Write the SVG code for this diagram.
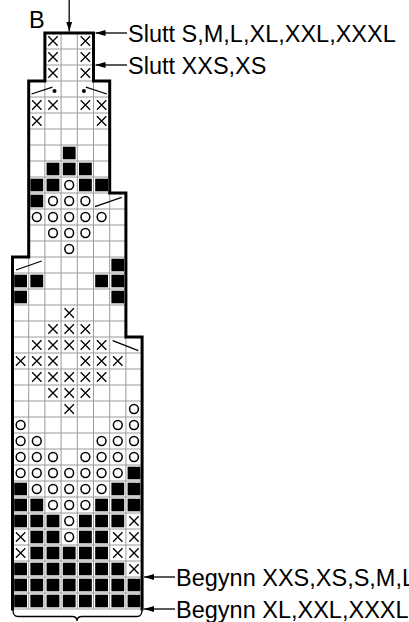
<svg xmlns="http://www.w3.org/2000/svg" xmlns:xlink="http://www.w3.org/1999/xlink" width="409" height="622" viewBox="0 0 409 622">
<style>
.grid{stroke:#9a9a9a;stroke-width:1;fill:none}
.border{stroke:#000;stroke-width:3;fill:none;stroke-linejoin:miter;stroke-linecap:square}
.sym{stroke:#000;stroke-width:1.3;fill:none}
.circ{stroke:#000;stroke-width:1.5;fill:none}
.conn{stroke:#000;stroke-width:1.3;fill:none}
.lbl{font-family:"Liberation Sans",Arial,Helvetica,sans-serif;font-size:23.5px;fill:#000}
</style>
<defs>
<marker id="ah" viewBox="0 0 10 6" refX="10" refY="3" markerWidth="10" markerHeight="6" markerUnits="userSpaceOnUse" orient="auto">
<path d="M0,0 L10,3 L0,6 z" fill="#000"/>
</marker>
<path id="x" class="sym" d="M-4.7,-4.7 L4.7,4.7 M-4.7,4.7 L4.7,-4.7"/>
<circle id="o" class="circ" r="4.4"/>
<rect id="b" x="-6.4" y="-6.3" width="12.8" height="12.6" fill="#000"/>
</defs>

<g id="grid">
<path class="grid" d="M44.9,49H93.5M44.9,65H93.5M28.7,81H109.7M28.7,97H109.7M28.7,113H109.7M28.7,129H109.7M28.7,145H109.7M28.7,161H109.7M28.7,177H109.7M28.7,193H125.9M28.7,209H125.9M28.7,225H125.9M28.7,241H125.9M12.5,257H125.9M12.5,273H125.9M12.5,289H125.9M12.5,305H125.9M12.5,321H125.9M12.5,337H142.1M12.5,353H142.1M12.5,369H142.1M12.5,385H142.1M12.5,401H142.1M12.5,417H142.1M12.5,433H142.1M12.5,449H142.1M12.5,465H142.1M12.5,481H142.1M12.5,497H142.1M12.5,513H142.1M12.5,529H142.1M12.5,545H142.1M12.5,561H142.1M12.5,577H142.1M12.5,593H142.1M12.5,609H142.1"/>
<path class="grid" d="M28.7,81V609M44.9,33V609M61.1,33V609M77.3,33V609M93.5,33V609M109.7,81V609M125.9,193V609"/>
</g>

<g id="cells">
<use href="#x" x="53" y="41"/><use href="#x" x="85.4" y="41"/>
<use href="#x" x="53" y="57"/><use href="#x" x="85.4" y="57"/>
<use href="#x" x="53" y="73"/><use href="#x" x="85.4" y="73"/>
<path class="sym" d="M31.5,94 L52.5,87.2M85.9,87.2 L106.9,94"/>
<circle cx="54.5" cy="91" r="2" fill="#000"/><circle cx="83.9" cy="91" r="2" fill="#000"/>
<use href="#x" x="36.8" y="105"/><use href="#x" x="53" y="105"/><use href="#x" x="85.4" y="105"/><use href="#x" x="101.6" y="105"/>
<use href="#x" x="36.8" y="121"/><use href="#x" x="101.6" y="121"/>
<use href="#b" x="69.2" y="153"/>
<use href="#b" x="53" y="169"/><use href="#b" x="69.2" y="169"/><use href="#b" x="85.4" y="169"/>
<use href="#b" x="36.8" y="185"/><use href="#b" x="53" y="185"/><use href="#o" x="69.2" y="185"/><use href="#b" x="85.4" y="185"/><use href="#b" x="101.6" y="185"/>
<use href="#b" x="36.8" y="201"/><use href="#o" x="53" y="201"/><use href="#o" x="69.2" y="201"/><use href="#o" x="85.4" y="201"/>
<path class="sym" d="M95,206.7 L121.7,197.3"/>
<use href="#o" x="36.8" y="217"/><use href="#o" x="53" y="217"/><use href="#o" x="69.2" y="217"/><use href="#o" x="85.4" y="217"/><use href="#o" x="101.6" y="217"/>
<use href="#o" x="53" y="233"/><use href="#o" x="69.2" y="233"/><use href="#o" x="85.4" y="233"/>
<use href="#o" x="69.2" y="249"/>
<path class="sym" d="M16,270 L41.7,261"/>
<use href="#b" x="117.8" y="265"/>
<use href="#b" x="20.6" y="281"/><use href="#b" x="36.8" y="281"/><use href="#b" x="101.6" y="281"/><use href="#b" x="117.8" y="281"/>
<use href="#b" x="20.6" y="297"/><use href="#b" x="117.8" y="297"/>
<use href="#x" x="69.2" y="313"/>
<use href="#x" x="53" y="329"/><use href="#x" x="69.2" y="329"/><use href="#x" x="85.4" y="329"/>
<use href="#x" x="36.8" y="345"/><use href="#x" x="53" y="345"/><use href="#x" x="69.2" y="345"/><use href="#x" x="85.4" y="345"/><use href="#x" x="101.6" y="345"/>
<path class="sym" d="M112.7,340.7 L138.3,350.7"/>
<use href="#x" x="20.6" y="361"/><use href="#x" x="36.8" y="361"/><use href="#x" x="53" y="361"/><use href="#x" x="85.4" y="361"/><use href="#x" x="101.6" y="361"/><use href="#x" x="117.8" y="361"/>
<use href="#x" x="36.8" y="377"/><use href="#x" x="53" y="377"/><use href="#x" x="69.2" y="377"/><use href="#x" x="85.4" y="377"/><use href="#x" x="101.6" y="377"/>
<use href="#x" x="53" y="393"/><use href="#x" x="69.2" y="393"/><use href="#x" x="85.4" y="393"/>
<use href="#x" x="69.2" y="409"/><use href="#o" x="134" y="409"/>
<use href="#o" x="20.6" y="425"/><use href="#o" x="117.8" y="425"/><use href="#o" x="134" y="425"/>
<use href="#o" x="20.6" y="441"/><use href="#o" x="36.8" y="441"/><use href="#o" x="101.6" y="441"/><use href="#o" x="117.8" y="441"/><use href="#o" x="134" y="441"/>
<use href="#o" x="20.6" y="457"/><use href="#o" x="36.8" y="457"/><use href="#o" x="53" y="457"/><use href="#o" x="85.4" y="457"/><use href="#o" x="101.6" y="457"/><use href="#o" x="117.8" y="457"/><use href="#o" x="134" y="457"/>
<use href="#o" x="20.6" y="473"/><use href="#o" x="36.8" y="473"/><use href="#o" x="53" y="473"/><use href="#o" x="69.2" y="473"/><use href="#o" x="85.4" y="473"/><use href="#o" x="101.6" y="473"/><use href="#o" x="117.8" y="473"/><use href="#b" x="134" y="473"/>
<use href="#b" x="20.6" y="489"/><use href="#o" x="36.8" y="489"/><use href="#o" x="53" y="489"/><use href="#o" x="69.2" y="489"/><use href="#o" x="85.4" y="489"/><use href="#o" x="101.6" y="489"/><use href="#b" x="117.8" y="489"/><use href="#b" x="134" y="489"/>
<use href="#b" x="20.6" y="505"/><use href="#b" x="36.8" y="505"/><use href="#o" x="53" y="505"/><use href="#o" x="69.2" y="505"/><use href="#o" x="85.4" y="505"/><use href="#b" x="101.6" y="505"/><use href="#b" x="117.8" y="505"/><use href="#b" x="134" y="505"/>
<use href="#b" x="20.6" y="521"/><use href="#b" x="36.8" y="521"/><use href="#b" x="53" y="521"/><use href="#o" x="69.2" y="521"/><use href="#b" x="85.4" y="521"/><use href="#b" x="101.6" y="521"/><use href="#b" x="117.8" y="521"/><use href="#x" x="134" y="521"/>
<use href="#x" x="20.6" y="537"/><use href="#b" x="36.8" y="537"/><use href="#b" x="53" y="537"/><use href="#o" x="69.2" y="537"/><use href="#b" x="85.4" y="537"/><use href="#b" x="101.6" y="537"/><use href="#x" x="117.8" y="537"/><use href="#x" x="134" y="537"/>
<use href="#x" x="20.6" y="553"/><use href="#b" x="36.8" y="553"/><use href="#b" x="53" y="553"/><use href="#b" x="69.2" y="553"/><use href="#b" x="85.4" y="553"/><use href="#b" x="101.6" y="553"/><use href="#x" x="117.8" y="553"/><use href="#x" x="134" y="553"/>
<use href="#b" x="20.6" y="569"/><use href="#b" x="36.8" y="569"/><use href="#b" x="53" y="569"/><use href="#b" x="69.2" y="569"/><use href="#b" x="85.4" y="569"/><use href="#b" x="101.6" y="569"/><use href="#b" x="117.8" y="569"/><use href="#x" x="134" y="569"/>
<use href="#b" x="20.6" y="585"/><use href="#b" x="36.8" y="585"/><use href="#b" x="53" y="585"/><use href="#b" x="69.2" y="585"/><use href="#b" x="85.4" y="585"/><use href="#b" x="101.6" y="585"/><use href="#b" x="117.8" y="585"/><use href="#b" x="134" y="585"/>
<use href="#b" x="20.6" y="601"/><use href="#b" x="36.8" y="601"/><use href="#b" x="53" y="601"/><use href="#b" x="69.2" y="601"/><use href="#b" x="85.4" y="601"/><use href="#b" x="101.6" y="601"/><use href="#b" x="117.8" y="601"/><use href="#b" x="134" y="601"/>
</g>

<g id="outline">
<path class="border" d="M12.5,609V257H28.7V81H44.9V33H93.5V81H109.7V193H125.9V337H142.1V609"/>
</g>

<g id="brace">
<path class="conn" d="M13,610 Q13,616.5 18,616.5 H72 Q77,616.5 77,621 Q77,616.5 82,616.5 H137 Q142,616.5 142,610"/>
</g>

<g id="connectors">
<path class="conn" marker-end="url(#ah)" d="M69.2,0 V31.5"/>
<path class="conn" marker-end="url(#ah)" d="M127,33 H95.5"/>
<path class="conn" marker-end="url(#ah)" d="M127,65 H95.5"/>
<path class="conn" marker-end="url(#ah)" d="M175,577 H144"/>
<path class="conn" marker-end="url(#ah)" d="M175,609 H144"/>
</g>

<g id="label-b"><text class="lbl" x="29" y="28">B</text></g>
<g id="label-slutt1"><text class="lbl" x="128" y="41.5">Slutt S,M,L,XL,XXL,XXXL</text></g>
<g id="label-slutt2"><text class="lbl" x="128" y="73.5">Slutt XXS,XS</text></g>
<g id="label-begynn1"><text class="lbl" x="176" y="585.5">Begynn XXS,XS,S,M,L</text></g>
<g id="label-begynn2"><text class="lbl" x="176" y="617.5">Begynn XL,XXL,XXXL</text></g>
</svg>
